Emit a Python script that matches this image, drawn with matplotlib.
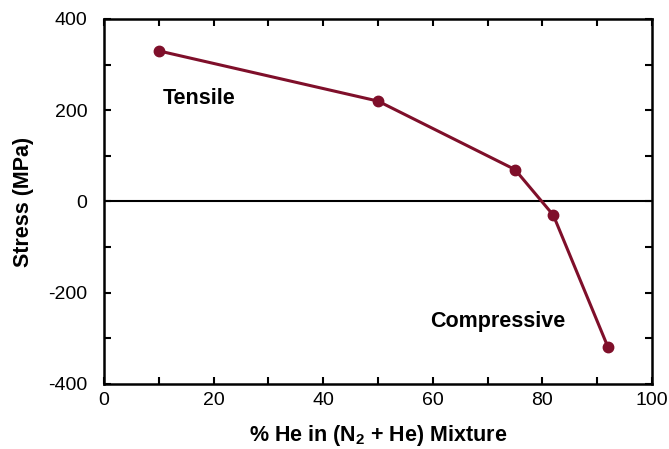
import numpy as np
import matplotlib
matplotlib.use("Agg")
import matplotlib.pyplot as plt
from matplotlib.ticker import MultipleLocator

plt.rcParams['font.family'] = ['Liberation Sans', 'DejaVu Sans']
plt.rcParams['axes.unicode_minus'] = False
plt.rcParams['mathtext.fontset'] = 'custom'
plt.rcParams['mathtext.bf'] = 'Liberation Sans:bold'

# % He in the gas mixture vs film stress
he_pct = [10, 50, 75, 82, 92]
stress = [330, 220, 70, -30, -320]

fig = plt.figure(figsize=(6.69, 4.49), dpi=100)
ax = fig.add_axes([0.1555, 0.1448, 0.819, 0.813])

ax.axhline(0, color='black', lw=1.5, zorder=1)
ax.plot(he_pct, stress, '-o', color='#7f0f2a', lw=2.2, ms=7.5, zorder=3)

ax.set_xlim(0, 100)
ax.set_ylim(-400, 400)
ax.xaxis.set_major_locator(MultipleLocator(20))
ax.xaxis.set_minor_locator(MultipleLocator(10))
ax.yaxis.set_major_locator(MultipleLocator(200))
ax.yaxis.set_minor_locator(MultipleLocator(100))
ax.tick_params(which='both', direction='in', top=True, right=True,
               labelsize=14, width=1.5, length=5)
ax.tick_params(axis='x', pad=6)
ax.tick_params(axis='y', pad=12)
for s in ax.spines.values():
    s.set_linewidth(1.8)

ax.set_xlabel("% He in (N$_\\mathbf{2}$ + He) Mixture", fontsize=15.5,
              fontweight='bold', labelpad=10)
ax.set_ylabel("Stress (MPa)", fontsize=15.5, fontweight='bold', labelpad=10)

ax.text(17.3, 225, "Tensile", fontsize=15.5, fontweight='bold', ha='center', va='center')
ax.text(71.8, -262, "Compressive", fontsize=15.5, fontweight='bold', ha='center', va='center')

fig.savefig("out.png", dpi=100)
